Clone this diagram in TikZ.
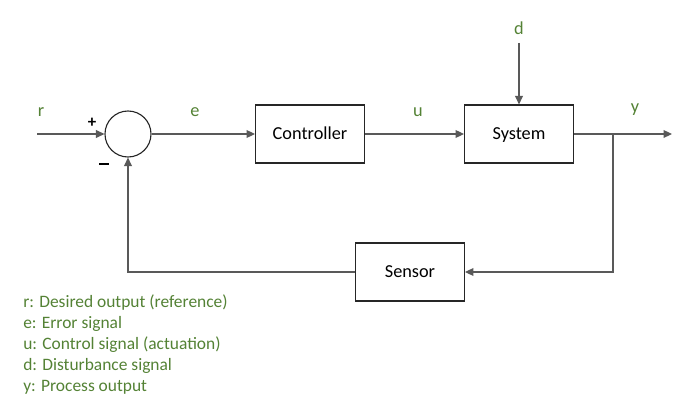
\documentclass[tikz,border=0pt]{standalone}
\usepackage{fontspec}
\setmainfont{Carlito}
\usepackage{xcolor}
\usetikzlibrary{arrows.meta,positioning,calc}
\definecolor{siggreen}{RGB}{84,130,53}

\begin{document}
\begin{tikzpicture}[
    x=0.025cm, y=-0.025cm,
    font=\fontsize{13}{15}\selectfont,
    block/.style={draw=black!85, line width=0.8pt, minimum width=2.72cm, minimum height=1.45cm,
        text height=0.95em, text depth=0.1em},
    junction/.style={draw=black!85, line width=0.8pt, circle, minimum size=1.15cm, inner sep=0pt},
    wire/.style={draw=black!65, line width=0.8pt},
    sig/.style={wire, -{Triangle[length=6pt, width=5.5pt]}},
    siglabel/.style={text=siggreen, inner sep=0pt},
    signmark/.style={inner sep=0pt, font=\fontsize{12}{12}\selectfont\bfseries}
]
    % Canvas
    \useasboundingbox (0,0) rectangle (689,412);

    % Blocks
    \node[junction] (sum) at (128,134) {};
    \node[block] (ctrl) at (310,134) {Controller};
    \node[block] (sys) at (519,134) {System};
    \node[block] (sens) at (410,272) {Sensor};

    % Free ends and corners
    \coordinate (in) at (37,134);
    \coordinate (dist) at (519,43);
    \coordinate (out) at (672,134);
    \coordinate (branch) at (613,134);
    \coordinate (fbright) at (613,272);
    \coordinate (fbleft) at (128,272);

    % Forward path
    \draw[sig] (in) -- (sum.west);
    \draw[sig] (sum.east) -- (ctrl.west);
    \draw[sig] (ctrl.east) -- (sys.west);
    \draw[sig] (dist) -- (sys.north);
    \draw[sig] (sys.east) -- (out);

    % Feedback path
    \draw[sig] (branch) -- (fbright) -- (sens.east);
    \draw[sig] (sens.west) -- (fbleft) -- (sum.south);

    % Signs at the summing junction
    \node[signmark] (plus) at (92,123) {+};
    \node[signmark] (minus) at (104,164) {\rule{7pt}{1.2pt}};

    % Signal names
    \node[siglabel] (lr) at (41,112) {r};
    \node[siglabel] (le) at (195,112) {e};
    \node[siglabel] (lu) at (418,112) {u};
    \node[siglabel] (ld) at (519,28) {d};
    \node[siglabel] (ly) at (635,110) {y};

    % Legend
    \node[siglabel, anchor=north west, align=left, font=\fontsize{12.4}{15}\selectfont] (legend) at (23,294)
        {r: Desired output (reference)\\
         e: Error signal\\
         u: Control signal (actuation)\\
         d: Disturbance signal\\
         y: Process output};

\end{tikzpicture}
\end{document}
